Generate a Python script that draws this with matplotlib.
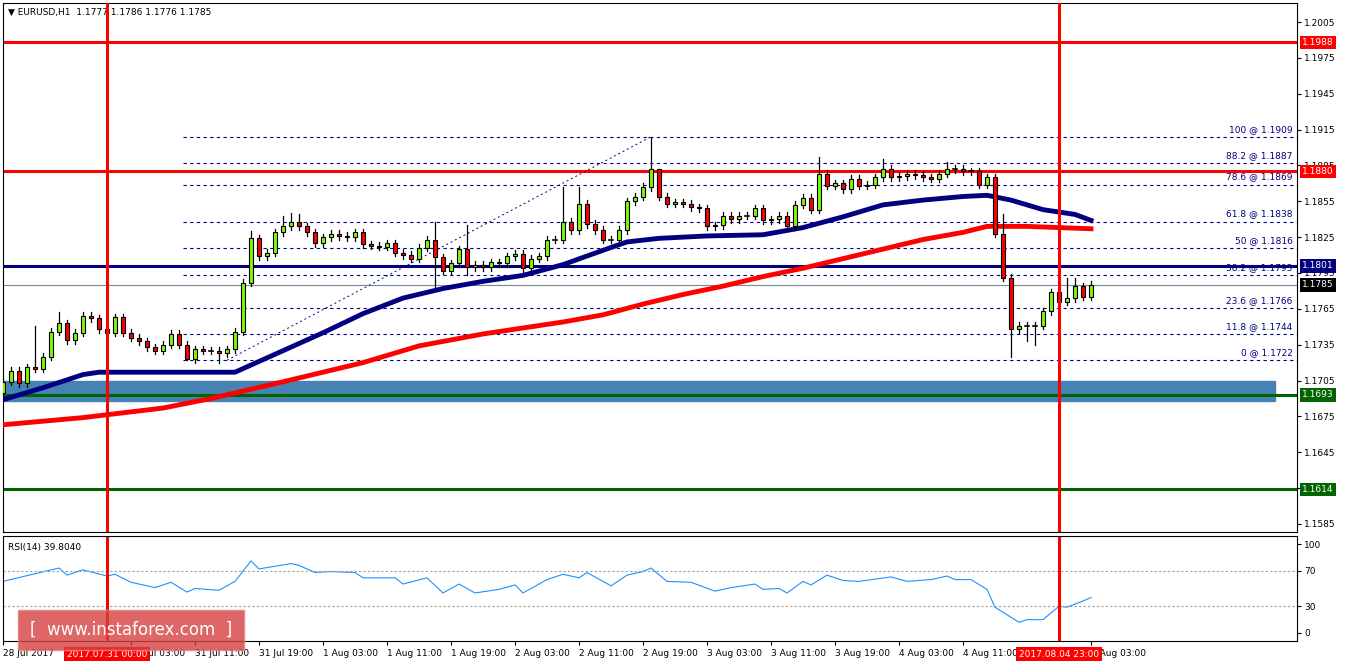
import numpy as np
import matplotlib.pyplot as plt
from matplotlib.patches import Rectangle

# ---------------- data ----------------
closes = [1.1704, 1.1713, 1.1703, 1.1716, 1.1715, 1.1725, 1.1746, 1.1753, 1.1739, 1.1745,
          1.1759, 1.1757, 1.1748, 1.1745, 1.1758, 1.1745, 1.1741, 1.1738, 1.1733, 1.1730,
          1.1735, 1.1744, 1.1735, 1.1723, 1.1731, 1.1730, 1.1730, 1.1728, 1.1731, 1.1746,
          1.1787, 1.1824, 1.1809, 1.1812, 1.1829, 1.1834, 1.1838, 1.1834, 1.1829, 1.1820,
          1.1825, 1.1828, 1.1826, 1.1825, 1.1829, 1.1819, 1.1818, 1.1817, 1.1820, 1.1812,
          1.1810, 1.1807, 1.1816, 1.1823, 1.1808, 1.1797, 1.1803, 1.1815, 1.1800, 1.1802,
          1.1800, 1.1804, 1.1803, 1.1809, 1.1811, 1.1799, 1.1807, 1.1809, 1.1823, 1.1823,
          1.1838, 1.1831, 1.1853, 1.1836, 1.1831, 1.1823, 1.1823, 1.1831, 1.1855, 1.1859,
          1.1867, 1.1882, 1.1859, 1.1853, 1.1854, 1.1853, 1.1850, 1.1849, 1.1834, 1.1835,
          1.1843, 1.1840, 1.1843, 1.1843, 1.1849, 1.1839, 1.1840, 1.1843, 1.1834, 1.1852,
          1.1858, 1.1848, 1.1878, 1.1868, 1.1870, 1.1865, 1.1874, 1.1868, 1.1869, 1.1875,
          1.1882, 1.1875, 1.1876, 1.1878, 1.1877, 1.1875, 1.1874, 1.1878, 1.1882, 1.1882,
          1.1880, 1.1880, 1.1869, 1.1875, 1.1828, 1.1791, 1.1748, 1.1751, 1.1751, 1.1751,
          1.1763, 1.1779, 1.1771, 1.1774, 1.1784, 1.1775, 1.1785]
first_open = 1.1695
wick_hi = {4: 1.1751, 7: 1.1762, 31: 1.1830, 35: 1.1843, 36: 1.1845, 37: 1.1844,
           54: 1.1838, 58: 1.1835, 70: 1.1867, 72: 1.1867, 81: 1.1909, 82: 1.1882,
           102: 1.1892, 110: 1.1890, 118: 1.1888, 125: 1.1844, 133: 1.1791, 134: 1.1791}
wick_lo = {23: 1.1722, 27: 1.1720, 54: 1.1783, 58: 1.1793, 125: 1.1788,
           126: 1.1725, 128: 1.1738, 129: 1.1735}

ma_fast_x = [0, 5, 10, 12, 20, 29, 31, 35, 40, 45, 50, 55, 60, 65, 70, 75, 78, 82, 88, 95,
             100, 105, 110, 115, 120, 123, 126, 130, 134, 136]
ma_fast_y = [1.1689, 1.1699, 1.1710, 1.1712, 1.1712, 1.1712, 1.1718, 1.1730, 1.1745, 1.1761,
             1.1774, 1.1782, 1.1788, 1.1793, 1.1802, 1.1814, 1.1821, 1.1824, 1.1826, 1.1827,
             1.1833, 1.1842, 1.1852, 1.1856, 1.1859, 1.1860, 1.1856, 1.1848, 1.1844, 1.1839]
ma_slow_x = [0, 10, 20, 26, 35, 45, 52, 60, 65, 70, 75, 80, 85, 90, 95, 100, 105, 110, 115,
             120, 123, 128, 132, 136]
ma_slow_y = [1.1668, 1.1674, 1.1682, 1.1690, 1.1704, 1.1720, 1.1734, 1.1744, 1.1749, 1.1754,
             1.1760, 1.1769, 1.1777, 1.1784, 1.1792, 1.1799, 1.1807, 1.1815, 1.1823, 1.1829,
             1.1834, 1.1834, 1.1833, 1.1832]

rsi_x = [0, 7, 8, 10, 13, 14, 16, 19, 21, 23, 24, 27, 29, 31, 32, 36, 37, 39, 41, 44, 45,
         49, 50, 53, 55, 57, 59, 62, 64, 65, 68, 70, 72, 73, 76, 78, 80, 81, 83, 86, 89, 91,
         94, 95, 97, 98, 100, 101, 103, 105, 107, 111, 113, 116, 118, 119, 121, 123, 124,
         127, 128, 130, 132, 133, 135, 136]
rsi_y = [58, 73, 65, 71, 64, 66, 57, 51, 57, 46, 50, 48, 58, 81, 72, 78, 76, 68, 69, 68, 62,
         62, 55, 62, 45, 55, 45, 49, 54, 45, 60, 66, 62, 68, 53, 65, 69, 73, 58, 57, 47, 51,
         55, 49, 50, 45, 58, 54, 65, 59, 58, 63, 58, 60, 64, 60, 60, 49, 29, 12, 15, 15, 30,
         29, 36, 39.8]

fib_levels = [100, 88.2, 78.6, 61.8, 50, 38.2, 23.6, 11.8, 0]
fib_prices = [1.1909, 1.1887, 1.1869, 1.1838, 1.1816, 1.1793, 1.1766, 1.1744, 1.1722]

time_bars = [0, 16, 24, 32, 40, 48, 56, 64, 72, 80, 88, 96, 104, 112, 120, 136]
time_labels = ['28 Jul 2017', '31 Jul 03:00', '31 Jul 11:00', '31 Jul 19:00', '1 Aug 03:00',
               '1 Aug 11:00', '1 Aug 19:00', '2 Aug 03:00', '2 Aug 11:00', '2 Aug 19:00',
               '3 Aug 03:00', '3 Aug 11:00', '3 Aug 19:00', '4 Aug 03:00', '4 Aug 11:00',
               '7 Aug 03:00']
vline_bars = [13, 132]
vline_labels = ['2017.07.31 00:00', '2017.08.04 23:00']

W, H = 1362, 661
fig = plt.figure(figsize=(W / 100, H / 100), dpi=100)

def box(l, t, r, b):
    return [l / W, 1 - b / H, (r - l) / W, (b - t) / H]

XL = (0, 161.75)
ax = fig.add_axes(box(3, 3, 1297, 532))
ax.set_xlim(*XL)
ax.set_ylim(1.15783, 1.20209)

# zones and levels
ax.add_patch(Rectangle((0, 1.1688), 159.0, 1.17046 - 1.1688, color='#4682B4', zorder=1))
for p, c in [(1.1988, 'red'), (1.1880, 'red'), (1.1801, '#000080'),
             (1.1693, '#006400'), (1.1614, '#006400')]:
    ax.axhline(p, color=c, lw=2.2, zorder=2)
ax.axhline(1.1785, color='#778899', lw=0.8, zorder=2)

for lv, p in zip(fib_levels, fib_prices):
    ax.plot([22.5, 161.75], [p, p], color='#000080', lw=0.8, ls=(0, (3, 3)), zorder=2)
    lab = ('%g @ %.4f' % (lv, p))
    ax.text(161.2, p + 0.00025, lab, ha='right', va='bottom', fontsize=6.5, color='#000080', zorder=3)
ax.plot([28, 81], [1.1722, 1.1909], color='#000080', lw=0.7, ls=(0, (2, 3)), zorder=2)

ax.plot(ma_slow_x, ma_slow_y, color='red', lw=3.5, zorder=4)
ax.plot(ma_fast_x, ma_fast_y, color='#000080', lw=3.5, zorder=4)

# candles
opens = [first_open] + closes[:-1]
for i, (o, c) in enumerate(zip(opens, closes)):
    hi = wick_hi.get(i, max(o, c) + 0.0003)
    lo = wick_lo.get(i, min(o, c) - 0.0003)
    ax.plot([i, i], [lo, hi], color='black', lw=0.9, zorder=5)
    if abs(c - o) < 0.00005:
        ax.plot([i - 0.3, i + 0.3], [c, c], color='black', lw=1.2, zorder=6)
    else:
        col = '#7CFC00' if c > o else '#FF0000'
        ax.add_patch(Rectangle((i - 0.3, min(o, c)), 0.6, abs(c - o), facecolor=col,
                               edgecolor='black', lw=0.8, zorder=6))

for b in vline_bars:
    ax.axvline(b, color='red', lw=2.2, zorder=7)

ax.yaxis.tick_right()
yt = np.arange(1.1585, 1.2006, 0.003)
ax.set_yticks(yt)
ax.set_yticklabels(['%.4f' % v for v in yt], fontsize=6.5)
ax.tick_params(axis='y', length=3, pad=2)
ax.set_xticks([])
for p, c in [(1.1988, 'red'), (1.1880, 'red'), (1.1801, '#000080'),
             (1.1785, 'black'), (1.1693, '#006400'), (1.1614, '#006400')]:
    ax.text(1.004, p, '%.4f' % p, transform=ax.get_yaxis_transform(), ha='left', va='center',
            fontsize=6.5, color='white', zorder=10, clip_on=False,
            bbox=dict(boxstyle='square,pad=0.25', fc=c, ec='none'))
ax.text(0.004, 0.99, '\u25BC EURUSD,H1  1.1777 1.1786 1.1776 1.1785', transform=ax.transAxes,
        ha='left', va='top', fontsize=6.5)

# RSI panel
ax2 = fig.add_axes(box(3, 536, 1297, 641))
ax2.set_xlim(*XL)
ax2.set_ylim(-9, 109)
ax2.plot(rsi_x, rsi_y, color='#1E90FF', lw=0.8)
for lv in (70, 30):
    ax2.axhline(lv, color='#A0A0A0', lw=0.8, ls=(0, (2, 2)))
for b in vline_bars:
    ax2.axvline(b, color='red', lw=2.2)
ax2.yaxis.tick_right()
ax2.set_yticks([0, 30, 70, 100])
ax2.set_yticklabels(['0', '30', '70', '100'], fontsize=6.5)
ax2.tick_params(axis='y', length=3, pad=2)
ax2.set_xticks(time_bars)
ax2.set_xticklabels(time_labels, fontsize=6.5, ha='left')
ax2.tick_params(axis='x', length=3, pad=3)
for b, lab in zip(vline_bars, vline_labels):
    ax2.text(b, -0.13, lab, transform=ax2.get_xaxis_transform(), ha='center', va='center',
             fontsize=6.5, color='white', zorder=10, clip_on=False,
             bbox=dict(boxstyle='square,pad=0.3', fc='red', ec='none'))
ax2.text(0.004, 0.93, 'RSI(14) 39.8040', transform=ax2.transAxes, ha='left', va='top', fontsize=6.5)

# watermark
fig.patches.append(Rectangle((18 / W, 1 - 650 / H), 226 / W, 40 / H, transform=fig.transFigure,
                             facecolor='#D84040', alpha=0.8, edgecolor='#E08080'))
fig.text(131 / W, 1 - 630 / H, '[  www.instaforex.com  ]', ha='center', va='center',
         fontsize=12, color='white')

fig.savefig('out.png', dpi=100)
